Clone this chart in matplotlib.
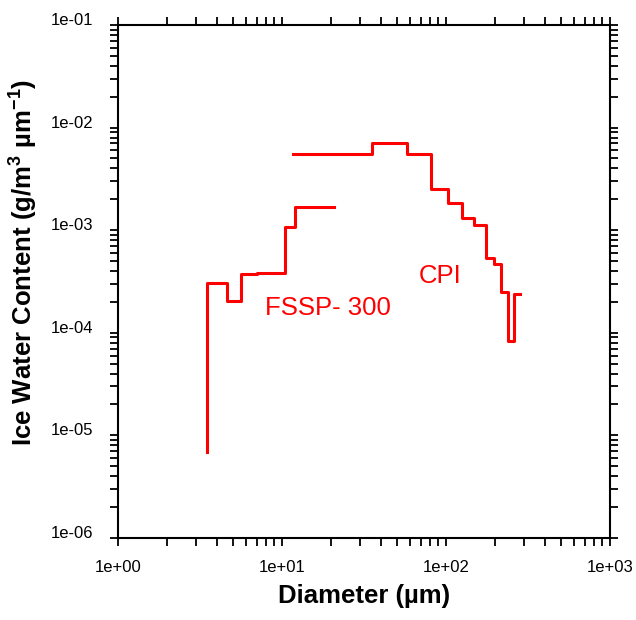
import numpy as np
import matplotlib.pyplot as plt
from matplotlib.ticker import LogLocator, FuncFormatter, NullFormatter

plt.rcParams['font.family'] = ['Liberation Sans', 'DejaVu Sans']
plt.rcParams['mathtext.fontset'] = 'custom'
plt.rcParams['mathtext.rm'] = 'Liberation Sans:bold'
plt.rcParams['mathtext.bf'] = 'Liberation Sans:bold'

# FSSP-300 step edges (um) and ice water content (g/m3/um)
fssp_d = [3.47, 3.47, 4.60, 5.62, 7.01, 10.4, 12.0, 20.8]
fssp_iwc = [6.9e-6, 3.03e-4, 2.06e-4, 3.74e-4, 3.86e-4, 1.08e-3, 1.67e-3, 1.67e-3]

# CPI step edges and values
cpi_d = [11.7, 35.2, 57.6, 81.0, 103, 125, 148, 175, 196, 216, 238, 261, 282]
cpi_iwc = [5.5e-3, 7.1e-3, 5.5e-3, 2.5e-3, 1.85e-3, 1.31e-3, 1.12e-3,
           5.3e-4, 4.7e-4, 2.52e-4, 8.3e-5, 2.39e-4, 2.39e-4]

fig = plt.figure(figsize=(6.36, 6.20), dpi=100)
ax = fig.add_axes([0.1855, 0.1323, 0.7735, 0.8274])

ax.plot(fssp_d, fssp_iwc, drawstyle='steps-post', color='#ff0000', lw=2.2)
ax.plot(cpi_d, cpi_iwc, drawstyle='steps-post', color='#ff0000', lw=2.2)

ax.set_xscale('log')
ax.set_yscale('log')
ax.set_xlim(1, 1000)
ax.set_ylim(1e-6, 1e-1)

ax.xaxis.set_major_locator(LogLocator(base=10, numticks=10))
ax.yaxis.set_major_locator(LogLocator(base=10, numticks=10))
ax.xaxis.set_minor_locator(LogLocator(base=10, subs=np.arange(2, 10), numticks=20))
ax.yaxis.set_minor_locator(LogLocator(base=10, subs=np.arange(2, 10), numticks=20))
ax.xaxis.set_minor_formatter(NullFormatter())
ax.yaxis.set_minor_formatter(NullFormatter())
fmt = FuncFormatter(lambda v, p: '%.0e' % v)
ax.xaxis.set_major_formatter(fmt)
ax.yaxis.set_major_formatter(fmt)

ax.tick_params(which='both', direction='out', top=True, right=True,
               length=6, width=1.3, labelsize=12, color='black')
ax.tick_params(axis='x', pad=10)
ax.tick_params(axis='y', pad=12)
for s in ax.spines.values():
    s.set_linewidth(1.5)
plt.setp(ax.get_yticklabels(), va='baseline')

ax.set_xlabel('Diameter (µm)', fontsize=18.5, fontweight='bold', labelpad=6)
ax.set_ylabel(r'Ice Water Content (g/m$^{3}$ µm$^{-1}$)', fontsize=18.5,
              fontweight='bold', labelpad=8)
ax.yaxis.label.set_y(0.537)

ax.text(19.1, 1.75e-4, 'FSSP- 300', color='#ff0000', fontsize=18.5,
        ha='center', va='center')
ax.text(91.9, 3.54e-4, 'CPI', color='#ff0000', fontsize=18.5,
        ha='center', va='center')

fig.savefig('out.png', dpi=100)
